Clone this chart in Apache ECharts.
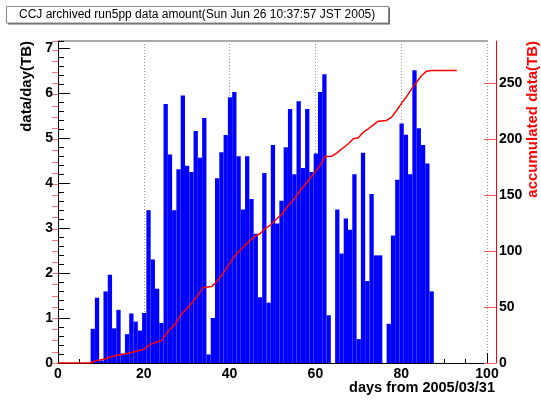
<!DOCTYPE html>
<html><head><meta charset="utf-8">
<script src="https://cdn.jsdelivr.net/npm/echarts@6/dist/echarts.min.js"></script>
<style>html,body{margin:0;padding:0;background:#fff}#c{width:541px;height:400px}</style>
</head><body><div id="c"></div>
<script>
const titleText = 'CCJ archived run5pp data amount(Sun Jun 26 10:37:57 JST 2005)';
const xTitle = 'days from 2005/03/31';
const leftTitle = 'data/day(TB)';
const rightTitle = 'accumulated data(TB)';
const xTickLabels = [0, 20, 40, 60, 80, 100];
const leftTickLabels = [0, 1, 2, 3, 4, 5, 6, 7];
const rightTickLabels = [0, 50, 100, 150, 200, 250];
const firstBinStart = 7.6; // day on which the first one-day bin begins
const dailyTB = [
  0.76, 1.45, 0.05, 1.59, 1.96, 0.77, 1.18, 0.21, 0.64, 1.10,
  0.92, 0.72, 1.11, 3.39, 2.30, 1.65, 0.89, 5.75, 4.63, 3.39,
  4.30, 5.94, 4.38, 4.24, 5.15, 4.56, 5.44, 0.19, 1.00, 4.10,
  4.68, 5.06, 5.90, 6.02, 4.59, 3.41, 4.59, 3.64, 2.87, 1.46,
  4.22, 1.34, 4.84, 3.10, 3.60, 4.79, 5.64, 4.19, 5.81, 4.33,
  5.64, 4.24, 4.65, 6.02, 6.41, 1.06, 0, 3.41, 2.43, 3.21,
  2.96, 4.19, 0.53, 4.67, 1.82, 3.75, 2.39, 2.39, 0, 0.87,
  2.83, 4.07, 5.32, 5.07, 4.19, 6.50, 5.21, 4.84, 4.43, 1.59
];
const cumDays = [
  0, 7.46, 8.62, 10.02, 10.96, 12.12, 14.06, 15.62, 17.56, 19.89,
  21.45, 23.0, 24.17, 25.72, 27.27, 28.83, 30.38, 31.93, 33.88, 35.82,
  36.6, 38.16, 39.7, 41.26, 42.82, 44.37, 45.92, 47.09, 48.25, 49.42,
  50.58, 52.14, 53.69, 55.24, 56.8, 58.35, 59.91, 61.07, 62.24, 63.8,
  64.96, 66.51, 67.68, 68.84, 70.0, 71.17, 72.33, 73.5, 74.66, 76.6,
  77.77, 78.93, 80.1, 81.26, 82.43, 83.59, 84.76, 85.92, 87.09, 92.94
];
const cumTB = [
  0, 0, 1.5, 3.0, 3.6, 5.4, 7.2, 8.0, 9.8, 12.0,
  16.4, 18.8, 20.0, 28.6, 34.3, 44.1, 50.0, 57.0, 67.6, 68.5,
  71.0, 78.4, 87.3, 96.2, 102.2, 108.1, 113.5, 115.6, 120.1, 123.1,
  127.5, 132.9, 140.9, 147.8, 155.9, 163.3, 170.5, 176.7, 184.7, 185.0,
  187.7, 192.5, 196.1, 200.5, 201.4, 206.4, 209.5, 213.0, 216.3, 216.9,
  219.9, 225.8, 232.4, 238.3, 245.2, 251.1, 257.1, 261.0, 261.6, 261.6
];

const FONT = '"Liberation Sans", Arial, Helvetica, sans-serif';
const leftMax = 7.15, rightMax = 288;
const barData = dailyTB.map((v, i) => [firstBinStart + i + 0.5, v]);
const lineData = cumDays.map((d, i) => [d, cumTB[i]]);
const lblStyle = { color: '#000', fontFamily: FONT, fontWeight: 'bold', fontSize: 14 };

const chart = echarts.init(document.getElementById('c'), null, { renderer: 'canvas' });
chart.setOption({
  animation: false,
  backgroundColor: '#fff',
  grid: { left: 58, right: 54, top: 41, bottom: 37, containLabel: false },
  xAxis: [
    {
      type: 'value', position: 'bottom', min: 0, max: 100, interval: 20,
      axisLine: { show: true, onZero: false, lineStyle: { color: '#000', width: 1 } },
      axisTick: { show: true, inside: true, length: 10, lineStyle: { color: '#000' } },
      minorTick: { show: true, splitNumber: 4, length: 4, lineStyle: { color: '#000' } },
      splitLine: { show: true, lineStyle: { color: '#999', type: [1, 2], width: 1 } },
      axisLabel: Object.assign({ margin: 4, customValues: xTickLabels }, lblStyle)
    },
    {
      type: 'value', position: 'top', min: 0, max: 100,
      axisLine: { show: true, onZero: false, lineStyle: { color: '#aaa', width: 2 } },
      axisTick: { show: false }, axisLabel: { show: false }, splitLine: { show: false }
    }
  ],
  yAxis: [
    {
      type: 'value', position: 'left', min: 0, max: leftMax, interval: 1,
      axisLine: { show: true, onZero: false, lineStyle: { color: '#000', width: 1 } },
      axisTick: { show: true, inside: true, length: 12, lineStyle: { color: '#000' }, customValues: leftTickLabels },
      splitLine: { show: false },
      axisLabel: Object.assign({ margin: 5, customValues: leftTickLabels }, lblStyle)
    },
    {
      type: 'value', position: 'left', min: 0, max: leftMax, interval: 0.2,
      axisLine: { show: false },
      axisTick: { show: true, inside: true, length: 6, lineStyle: { color: '#000' } },
      axisLabel: { show: false }, splitLine: { show: false }
    },
    {
      type: 'value', position: 'right', offset: 9, min: 0, max: rightMax, interval: 50,
      axisLine: { show: true, onZero: false, lineStyle: { color: '#f00', width: 1 } },
      axisTick: { show: true, inside: true, length: 12, lineStyle: { color: '#f55' }, customValues: rightTickLabels },
      splitLine: { show: false },
      axisLabel: Object.assign({ margin: 3, customValues: rightTickLabels }, lblStyle)
    },
    {
      type: 'value', position: 'right', offset: 9, min: 0, max: rightMax, interval: 10,
      axisLine: { show: false },
      axisTick: { show: true, inside: true, length: 6, lineStyle: { color: '#f77' } },
      axisLabel: { show: false }, splitLine: { show: false }
    }
  ],
  series: [
    {
      type: 'bar', xAxisIndex: 0, yAxisIndex: 0, data: barData,
      barWidth: '100%', barGap: '0%', barCategoryGap: '0%',
      itemStyle: { color: '#0000ff', borderWidth: 0 },
      z: 2
    },
    {
      type: 'line', xAxisIndex: 0, yAxisIndex: 2, data: lineData,
      showSymbol: false, symbol: 'none', smooth: false,
      lineStyle: { color: '#ff0000', width: 1.5 }, z: 5
    }
  ],
  graphic: [
    { type: 'rect', shape: { x: 8, y: 7.5, width: 382, height: 17 }, style: { fill: '#666' }, z: 10 },
    { type: 'rect', shape: { x: 6.5, y: 6.5, width: 382, height: 16.5 }, style: { fill: '#fff', stroke: '#888', lineWidth: 1 }, z: 11 },
    { type: 'text', x: 19, y: 15, z: 12,
      style: { text: titleText, font: '12px ' + FONT, fill: '#000', textAlign: 'left', textVerticalAlign: 'middle' } },
    { type: 'text', x: 27, y: 41, rotation: Math.PI / 2, z: 12,
      style: { text: leftTitle, font: 'bold 15px ' + FONT, fill: '#000', textAlign: 'right', textVerticalAlign: 'middle' } },
    { type: 'text', x: 533, y: 41, rotation: Math.PI / 2, z: 12,
      style: { text: rightTitle, font: 'bold 15px ' + FONT, fill: '#f00', textAlign: 'right', textVerticalAlign: 'middle' } },
    { type: 'text', x: 495, y: 388, z: 12,
      style: { text: xTitle, font: 'bold 14.5px ' + FONT, fill: '#000', textAlign: 'right', textVerticalAlign: 'middle' } }
  ]
});
</script>
</body></html>
